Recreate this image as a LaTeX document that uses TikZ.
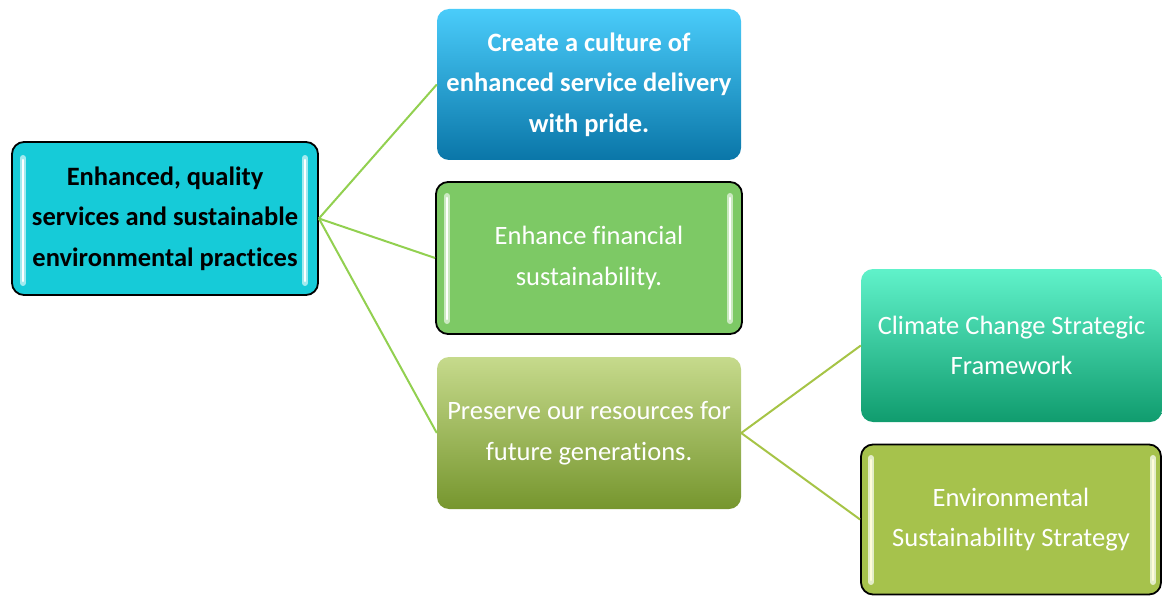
\documentclass[tikz,border=0pt]{standalone}
\usepackage{fontspec}
\setmainfont{Carlito}[Ligatures=NoCommon]
\definecolor{rootfill}{RGB}{22,203,216}
\definecolor{finfill}{RGB}{125,201,101}
\definecolor{envfill}{RGB}{166,194,76}
\definecolor{blueTop}{RGB}{74,204,250}
\definecolor{blueBot}{RGB}{10,118,168}
\definecolor{oliveTop}{RGB}{198,218,140}
\definecolor{oliveBot}{RGB}{118,150,46}
\definecolor{tealTop}{RGB}{96,242,202}
\definecolor{tealBot}{RGB}{16,156,110}
\definecolor{linkA}{RGB}{146,208,80}
\definecolor{linkB}{RGB}{166,196,70}
\tikzset{
  boxbase/.style={rounded corners=12pt, align=center, inner sep=0pt, font=\fontsize{26.5}{40.5}\selectfont},
  bordered/.style={boxbase, draw=black, line width=1.8pt},
  plain/.style={boxbase, draw=none},
  link/.style={line width=2pt, linkA},
  linkb/.style={line width=2pt, linkB},
  glow/.style={line width=6pt, line cap=round},
  glowcore/.style={line width=2.5pt, line cap=round, white},
}
\begin{document}
\begin{tikzpicture}[x=1pt,y=-1pt]
\useasboundingbox (0,0) rectangle (1162,596);
% root
\node[bordered, fill=rootfill, minimum width=306pt, minimum height=153pt, text=black, font=\bfseries\fontsize{26.5}{40.5}\selectfont] (root) at (165,218.5)
  {Enhanced, quality\\services and sustainable\\environmental practices};
\draw[glow, rootfill!40!white] (23,158) -- (23,283);
\draw[glowcore] (23,160) -- (23,281);
\draw[glow, rootfill!40!white] (305,158) -- (305,283);
\draw[glowcore] (305,160) -- (305,281);
% box1
\node[plain, top color=blueTop, bottom color=blueBot, minimum width=304pt, minimum height=151pt, text=white, font=\bfseries\fontsize{26.5}{40.5}\selectfont] (b1) at (589,84.5)
  {Create a culture of\\enhanced service delivery\\with pride.};
% box2
\node[bordered, fill=finfill, minimum width=306pt, minimum height=152pt, text=white] (b2) at (589,258)
  {Enhance financial\\sustainability.};
\draw[glow, finfill!40!white] (447,196) -- (447,321);
\draw[glowcore] (447,198) -- (447,319);
\draw[glow, finfill!40!white] (730,196) -- (730,321);
\draw[glowcore] (730,198) -- (730,319);
% box3
\node[plain, top color=oliveTop, bottom color=oliveBot, minimum width=304pt, minimum height=152pt, text=white] (b3) at (589,433)
  {Preserve our resources for\\future generations.};
% box4
\node[plain, top color=tealTop, bottom color=tealBot, minimum width=301pt, minimum height=153pt, text=white] (b4) at (1011.5,345.5)
  {Climate Change Strategic\\Framework};
% box5
\node[bordered, fill=envfill, minimum width=300pt, minimum height=150pt, text=white] (b5) at (1011,519.5)
  {Environmental\\Sustainability Strategy};
\draw[glow, envfill!30!white] (871,458) -- (871,582);
\draw[glowcore, white!85!yellow] (871,460) -- (871,580);
\draw[glow, envfill!30!white] (1153,458) -- (1153,582);
\draw[glowcore, white!85!yellow] (1153,460) -- (1153,580);
% connectors
\draw[link] (root.east) -- (b1.west);
\draw[link] (root.east) -- (b2.west);
\draw[link] (root.east) -- (b3.west);
\draw[linkb] (b3.east) -- (b4.west);
\draw[linkb] (b3.east) -- (b5.west);
\end{tikzpicture}
\end{document}
